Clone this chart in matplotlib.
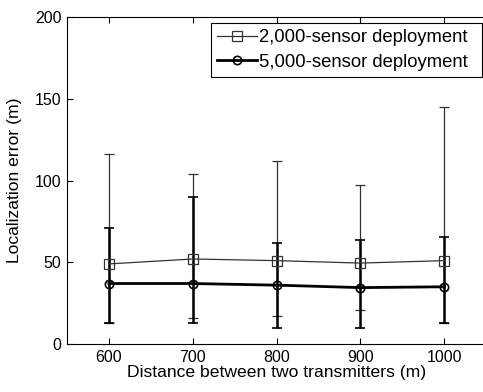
import matplotlib.pyplot as plt
from matplotlib.lines import Line2D

plt.rcParams['font.family'] = ['Liberation Sans', 'DejaVu Sans']

distance = [600, 700, 800, 900, 1000]

err_2000 = [49, 52, 51, 49.5, 51]
low_2000 = [13, 16, 17, 21, 13]
high_2000 = [116, 104, 112, 97, 145]

err_5000 = [37, 37, 36, 34.5, 35]
low_5000 = [13, 13, 10, 10, 13]
high_5000 = [71, 90, 62, 63.5, 65.5]

fig = plt.figure(figsize=(4.83, 3.92), dpi=100)
ax = fig.add_axes([0.1387, 0.1224, 0.868, 0.8342])

ax.errorbar(distance, err_2000,
            yerr=[[m - l for m, l in zip(err_2000, low_2000)],
                  [h - m for m, h in zip(err_2000, high_2000)]],
            color='#333333', lw=0.9, elinewidth=0.9, capsize=3.5, capthick=0.9,
            marker='s', ms=7, mfc='none', mec='#333333', mew=0.9)
ax.errorbar(distance, err_5000,
            yerr=[[m - l for m, l in zip(err_5000, low_5000)],
                  [h - m for m, h in zip(err_5000, high_5000)]],
            color='black', lw=2, elinewidth=1.8, capsize=3.5, capthick=1.8,
            marker='o', ms=6, mfc='none', mec='black', mew=1.2)

ax.set_xlim(550, 1050)
ax.set_ylim(0, 200)
ax.set_xticks(distance)
ax.set_yticks([0, 50, 100, 150, 200])
ax.tick_params(direction='in', top=True, right=False, labelsize=11.5, length=4, pad=4)
for s in ax.spines.values():
    s.set_linewidth(0.8)
ax.spines['right'].set_visible(False)

ax.set_xlabel('Distance between two transmitters (m)', fontsize=12.6, labelpad=0)
ax.set_ylabel('Localization error (m)', fontsize=12.6, labelpad=9)

handles = [
    Line2D([], [], color='#333333', lw=0.9, marker='s', ms=7, mfc='none', mew=0.9),
    Line2D([], [], color='black', lw=2, marker='o', ms=6, mfc='none', mew=1.2),
]
leg = ax.legend(handles, ['2,000-sensor deployment', '5,000-sensor deployment'],
                loc='upper left', bbox_to_anchor=(0.3435, 0.8196, 0.6465, 0.162),
                mode='expand', fontsize=13.3,
                fancybox=False, edgecolor='black', framealpha=1,
                handlelength=2.15, handletextpad=0.1, borderpad=0.33,
                labelspacing=0.4, borderaxespad=0)
leg.get_frame().set_linewidth(0.8)

fig.savefig('out.png', dpi=100)
